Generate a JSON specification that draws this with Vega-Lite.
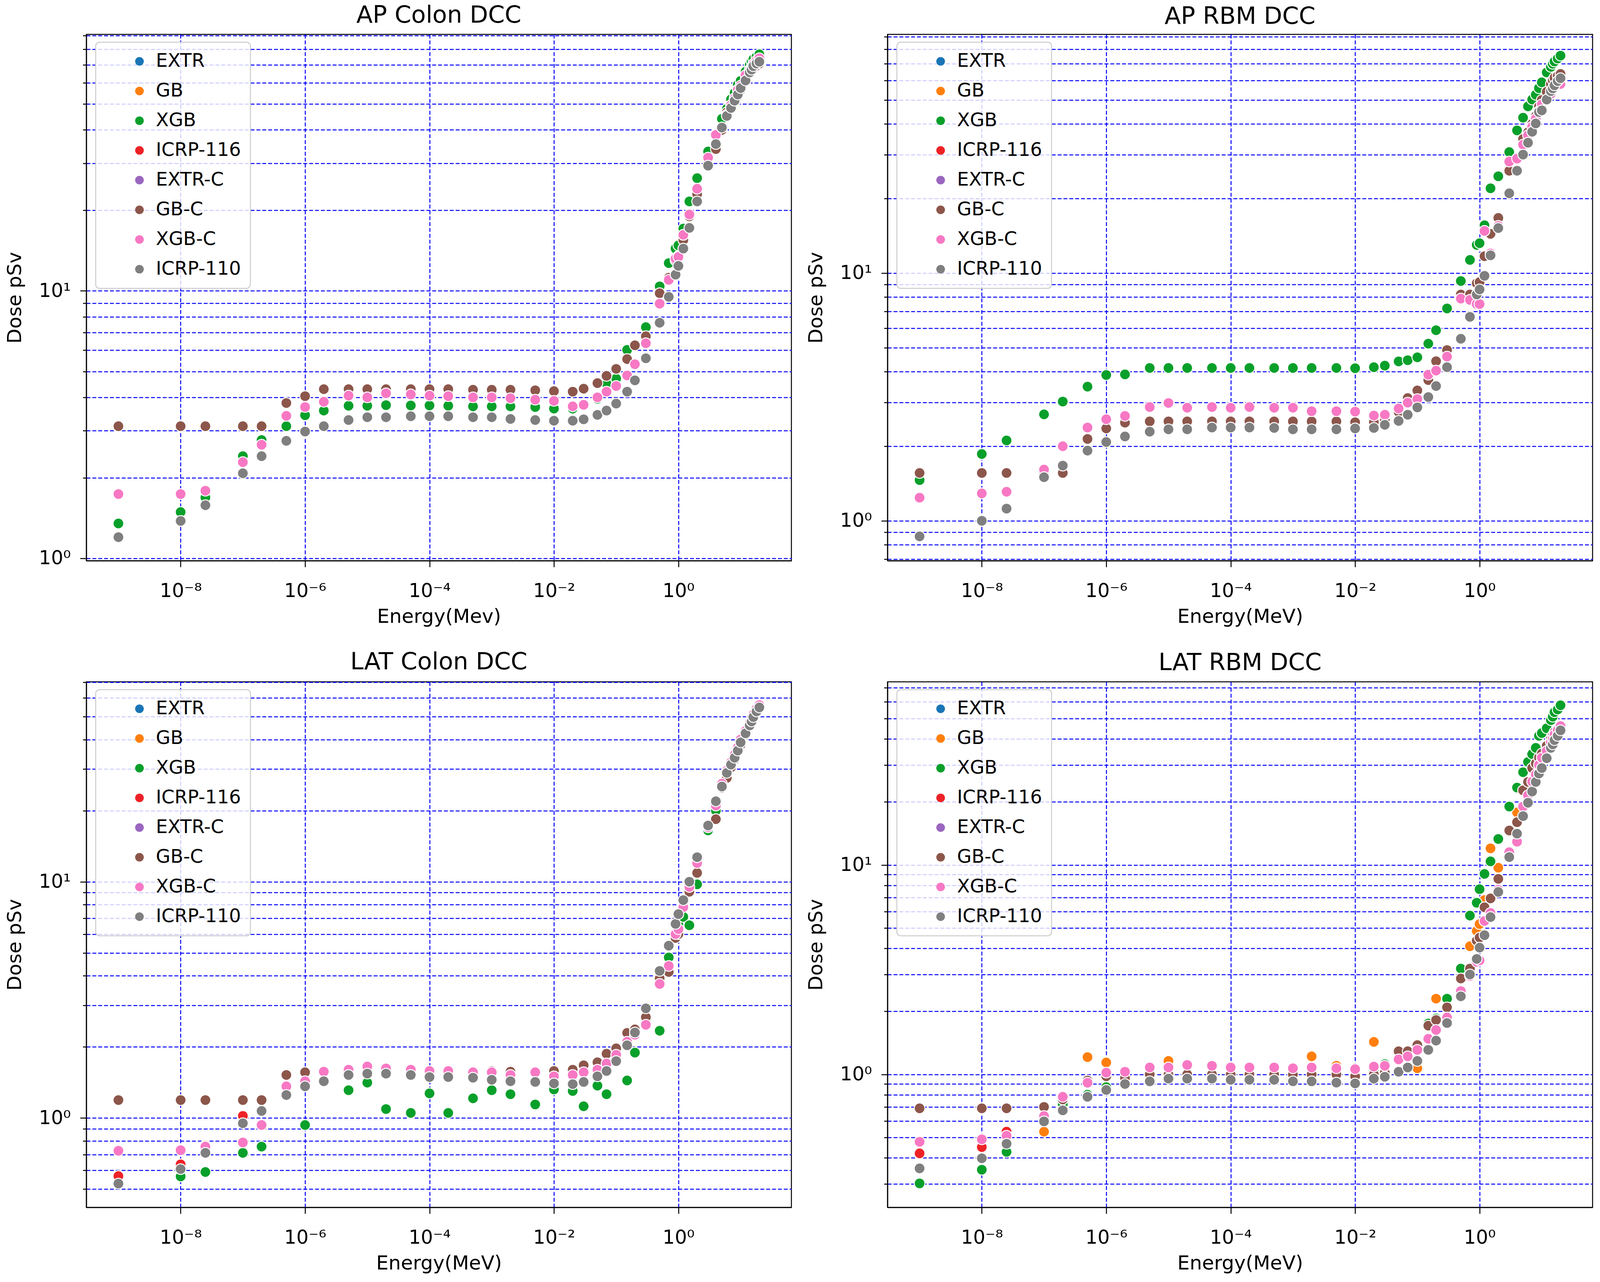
{
  "$schema": "https://vega.github.io/schema/vega-lite/v6.json",
  "padding": {"left": 11, "top": 8, "right": 5, "bottom": 2},
  "background": "white",
  "datasets": {
    "zorder": [
      {"Model": "EXTR", "z": 0}, {"Model": "GB", "z": 1}, {"Model": "XGB", "z": 2}, {"Model": "ICRP-116", "z": 3},
      {"Model": "EXTR-C", "z": 4}, {"Model": "GB-C", "z": 5}, {"Model": "XGB-C", "z": 6}, {"Model": "ICRP-110", "z": 7}
    ],
    "apc": [
      {"E":1e-9,"XGB":1.35,"GB-C":3.12,"XGB-C":1.74,"ICRP-110":1.2},
      {"E":1e-8,"XGB":1.49,"GB-C":3.12,"XGB-C":1.74,"ICRP-110":1.38},
      {"E":2.5e-8,"XGB":1.69,"GB-C":3.12,"XGB-C":1.79,"ICRP-110":1.58},
      {"E":1e-7,"XGB":2.41,"GB-C":3.12,"XGB-C":2.29,"ICRP-110":2.08},
      {"E":2e-7,"XGB":2.77,"GB-C":3.12,"XGB-C":2.66,"ICRP-110":2.41},
      {"E":5e-7,"XGB":3.12,"GB-C":3.81,"XGB-C":3.41,"ICRP-110":2.75},
      {"E":1e-6,"XGB":3.43,"GB-C":4.04,"XGB-C":3.68,"ICRP-110":2.98},
      {"E":2e-6,"XGB":3.57,"GB-C":4.29,"XGB-C":3.85,"ICRP-110":3.12},
      {"E":5e-6,"XGB":3.72,"GB-C":4.29,"XGB-C":4.06,"ICRP-110":3.29},
      {"E":1e-5,"XGB":3.72,"GB-C":4.29,"XGB-C":4.0,"ICRP-110":3.37},
      {"E":2e-5,"XGB":3.74,"GB-C":4.29,"XGB-C":4.14,"ICRP-110":3.37},
      {"E":5e-5,"XGB":3.73,"GB-C":4.29,"XGB-C":4.1,"ICRP-110":3.4},
      {"E":1e-4,"XGB":3.73,"GB-C":4.29,"XGB-C":4.06,"ICRP-110":3.4},
      {"E":2e-4,"XGB":3.72,"GB-C":4.29,"XGB-C":4.04,"ICRP-110":3.4},
      {"E":5e-4,"XGB":3.7,"GB-C":4.27,"XGB-C":4.0,"ICRP-110":3.37},
      {"E":1e-3,"XGB":3.7,"GB-C":4.27,"XGB-C":4.0,"ICRP-110":3.37},
      {"E":2e-3,"XGB":3.7,"GB-C":4.27,"XGB-C":3.97,"ICRP-110":3.32},
      {"E":5e-3,"XGB":3.68,"GB-C":4.25,"XGB-C":3.92,"ICRP-110":3.29},
      {"E":1e-2,"XGB":3.63,"GB-C":4.22,"XGB-C":3.88,"ICRP-110":3.27},
      {"E":2e-2,"XGB":3.63,"GB-C":4.2,"XGB-C":3.7,"ICRP-110":3.27},
      {"E":3e-2,"XGB":3.75,"GB-C":4.31,"XGB-C":3.75,"ICRP-110":3.31},
      {"E":5e-2,"XGB":3.95,"GB-C":4.52,"XGB-C":4.0,"ICRP-110":3.44},
      {"E":7e-2,"XGB":4.5,"GB-C":4.81,"XGB-C":4.2,"ICRP-110":3.57},
      {"E":0.1,"XGB":4.7,"GB-C":5.11,"XGB-C":4.41,"ICRP-110":3.79},
      {"E":0.15,"XGB":6.02,"GB-C":5.56,"XGB-C":4.83,"ICRP-110":4.2},
      {"E":0.2,"XGB":6.3,"GB-C":6.26,"XGB-C":5.32,"ICRP-110":4.63},
      {"E":0.3,"XGB":7.32,"GB-C":6.77,"XGB-C":6.37,"ICRP-110":5.6},
      {"E":0.5,"XGB":10.4,"GB-C":9.8,"XGB-C":8.96,"ICRP-110":7.6},
      {"E":0.7,"XGB":12.7,"GB-C":11.2,"XGB-C":11.0,"ICRP-110":9.5},
      {"E":0.9,"XGB":14.4,"GB-C":13.0,"XGB-C":13.2,"ICRP-110":11.5},
      {"E":1,"XGB":14.8,"GB-C":13.5,"XGB-C":13.4,"ICRP-110":12.4},
      {"E":1.2,"XGB":17.1,"GB-C":15.5,"XGB-C":16.2,"ICRP-110":14.4},
      {"E":1.5,"XGB":21.6,"GB-C":19.0,"XGB-C":19.3,"ICRP-110":17.2},
      {"E":2,"XGB":26.4,"GB-C":23.0,"XGB-C":24.1,"ICRP-110":21.6},
      {"E":3,"XGB":33.2,"GB-C":31.0,"XGB-C":31.5,"ICRP-110":29.4},
      {"E":4,"XGB":38.5,"GB-C":33.9,"XGB-C":38.3,"ICRP-110":35.4},
      {"E":5,"XGB":44.0,"GB-C":40.0,"XGB-C":40.8,"ICRP-110":40.8},
      {"E":6,"XGB":47.9,"GB-C":46.5,"XGB-C":45.5,"ICRP-110":45.1},
      {"E":7,"XGB":52.0,"GB-C":48.0,"XGB-C":49.5,"ICRP-110":48.3},
      {"E":8,"XGB":55.0,"GB-C":51.0,"XGB-C":52.5,"ICRP-110":51.4},
      {"E":9,"XGB":59.0,"GB-C":53.5,"XGB-C":56.5,"ICRP-110":54.2},
      {"E":10,"XGB":61.0,"GB-C":56.5,"XGB-C":58.5,"ICRP-110":57.3},
      {"E":12,"XGB":66.0,"GB-C":61.0,"XGB-C":64.0,"ICRP-110":61.2},
      {"E":14,"XGB":70.0,"GB-C":65.0,"XGB-C":67.0,"ICRP-110":65.6},
      {"E":15,"XGB":72.0,"GB-C":66.5,"XGB-C":68.5,"ICRP-110":67.2},
      {"E":16,"XGB":73.5,"GB-C":68.0,"XGB-C":70.5,"ICRP-110":69.2},
      {"E":18,"XGB":75.0,"GB-C":69.5,"XGB-C":72.5,"ICRP-110":70.8},
      {"E":20,"XGB":76.7,"GB-C":70.8,"XGB-C":74.1,"ICRP-110":71.9}
    ],
    "apr": [
      {"E":1e-9,"XGB":1.46,"GB-C":1.56,"XGB-C":1.24,"ICRP-110":0.865},
      {"E":1e-8,"XGB":1.86,"GB-C":1.56,"XGB-C":1.29,"ICRP-110":1.0},
      {"E":2.5e-8,"XGB":2.11,"GB-C":1.56,"XGB-C":1.31,"ICRP-110":1.12},
      {"E":1e-7,"XGB":2.69,"GB-C":1.55,"XGB-C":1.61,"ICRP-110":1.5},
      {"E":2e-7,"XGB":3.03,"GB-C":1.56,"XGB-C":2.0,"ICRP-110":1.67},
      {"E":5e-7,"XGB":3.48,"GB-C":2.14,"XGB-C":2.38,"ICRP-110":1.92},
      {"E":1e-6,"XGB":3.88,"GB-C":2.36,"XGB-C":2.57,"ICRP-110":2.08},
      {"E":2e-6,"XGB":3.9,"GB-C":2.49,"XGB-C":2.65,"ICRP-110":2.19},
      {"E":5e-6,"XGB":4.14,"GB-C":2.52,"XGB-C":2.88,"ICRP-110":2.29},
      {"E":1e-5,"XGB":4.14,"GB-C":2.52,"XGB-C":2.99,"ICRP-110":2.34},
      {"E":2e-5,"XGB":4.14,"GB-C":2.52,"XGB-C":2.86,"ICRP-110":2.34},
      {"E":5e-5,"XGB":4.14,"GB-C":2.52,"XGB-C":2.88,"ICRP-110":2.38},
      {"E":1e-4,"XGB":4.14,"GB-C":2.52,"XGB-C":2.86,"ICRP-110":2.38},
      {"E":2e-4,"XGB":4.14,"GB-C":2.52,"XGB-C":2.88,"ICRP-110":2.38},
      {"E":5e-4,"XGB":4.14,"GB-C":2.52,"XGB-C":2.86,"ICRP-110":2.37},
      {"E":1e-3,"XGB":4.14,"GB-C":2.52,"XGB-C":2.86,"ICRP-110":2.34},
      {"E":2e-3,"XGB":4.14,"GB-C":2.52,"XGB-C":2.77,"ICRP-110":2.34},
      {"E":5e-3,"XGB":4.14,"GB-C":2.52,"XGB-C":2.77,"ICRP-110":2.34},
      {"E":1e-2,"XGB":4.13,"GB-C":2.5,"XGB-C":2.76,"ICRP-110":2.36},
      {"E":2e-2,"XGB":4.17,"GB-C":2.5,"XGB-C":2.66,"ICRP-110":2.37},
      {"E":3e-2,"XGB":4.23,"GB-C":2.55,"XGB-C":2.68,"ICRP-110":2.44},
      {"E":5e-2,"XGB":4.4,"GB-C":2.75,"XGB-C":2.84,"ICRP-110":2.53},
      {"E":7e-2,"XGB":4.45,"GB-C":3.13,"XGB-C":3.0,"ICRP-110":2.68},
      {"E":0.1,"XGB":4.57,"GB-C":3.36,"XGB-C":3.1,"ICRP-110":2.87},
      {"E":0.15,"XGB":5.19,"GB-C":3.7,"XGB-C":3.89,"ICRP-110":3.16},
      {"E":0.2,"XGB":5.88,"GB-C":4.41,"XGB-C":4.04,"ICRP-110":3.5},
      {"E":0.3,"XGB":7.2,"GB-C":4.89,"XGB-C":4.6,"ICRP-110":4.17},
      {"E":0.5,"XGB":9.29,"GB-C":8.2,"XGB-C":7.89,"ICRP-110":5.43},
      {"E":0.7,"XGB":11.3,"GB-C":8.2,"XGB-C":7.8,"ICRP-110":6.66},
      {"E":0.9,"XGB":13.0,"GB-C":9.1,"XGB-C":7.5,"ICRP-110":8.2},
      {"E":1,"XGB":13.2,"GB-C":9.2,"XGB-C":7.5,"ICRP-110":8.59},
      {"E":1.2,"XGB":15.6,"GB-C":11.7,"XGB-C":14.8,"ICRP-110":9.75},
      {"E":1.5,"XGB":22.0,"GB-C":14.4,"XGB-C":12.0,"ICRP-110":11.8},
      {"E":2,"XGB":24.6,"GB-C":16.7,"XGB-C":15.5,"ICRP-110":15.2},
      {"E":3,"XGB":30.8,"GB-C":25.9,"XGB-C":28.2,"ICRP-110":21.0},
      {"E":4,"XGB":37.7,"GB-C":29.0,"XGB-C":29.0,"ICRP-110":25.9},
      {"E":5,"XGB":42.4,"GB-C":34.8,"XGB-C":33.0,"ICRP-110":30.1},
      {"E":6,"XGB":47.1,"GB-C":37.0,"XGB-C":36.0,"ICRP-110":33.6},
      {"E":7,"XGB":50.2,"GB-C":40.0,"XGB-C":39.0,"ICRP-110":37.2},
      {"E":8,"XGB":52.5,"GB-C":43.0,"XGB-C":42.0,"ICRP-110":40.2},
      {"E":9,"XGB":55.8,"GB-C":47.0,"XGB-C":45.0,"ICRP-110":44.7},
      {"E":10,"XGB":58.9,"GB-C":50.0,"XGB-C":48.0,"ICRP-110":45.4},
      {"E":12,"XGB":64.6,"GB-C":54.0,"XGB-C":50.0,"ICRP-110":50.2},
      {"E":14,"XGB":68.0,"GB-C":58.0,"XGB-C":53.0,"ICRP-110":54.3},
      {"E":15,"XGB":70.0,"GB-C":60.0,"XGB-C":55.0,"ICRP-110":55.7},
      {"E":16,"XGB":71.5,"GB-C":61.5,"XGB-C":56.5,"ICRP-110":57.3},
      {"E":18,"XGB":73.5,"GB-C":62.5,"XGB-C":57.5,"ICRP-110":59.6},
      {"E":20,"XGB":75.5,"GB-C":63.7,"XGB-C":58.0,"ICRP-110":61.2}
    ],
    "latc": [
      {"E":1e-9,"XGB":0.53,"ICRP-116":0.567,"GB-C":1.19,"XGB-C":0.726,"ICRP-110":0.527},
      {"E":1e-8,"XGB":0.565,"ICRP-116":0.636,"GB-C":1.19,"XGB-C":0.73,"ICRP-110":0.607},
      {"E":2.5e-8,"XGB":0.59,"GB":0.765,"GB-C":1.19,"XGB-C":0.756,"ICRP-110":0.711},
      {"E":1e-7,"XGB":0.711,"ICRP-116":1.02,"GB-C":1.19,"XGB-C":0.787,"ICRP-110":0.949},
      {"E":2e-7,"XGB":0.756,"GB-C":1.19,"XGB-C":0.933,"ICRP-110":1.07},
      {"E":5e-7,"XGB":1.25,"GB-C":1.52,"XGB-C":1.36,"ICRP-110":1.25},
      {"E":1e-6,"XGB":0.933,"GB-C":1.56,"XGB-C":1.43,"ICRP-110":1.36},
      {"E":2e-6,"XGB":1.43,"GB-C":1.57,"XGB-C":1.57,"ICRP-110":1.43},
      {"E":5e-6,"XGB":1.31,"GB-C":1.58,"XGB-C":1.6,"ICRP-110":1.52},
      {"E":1e-5,"XGB":1.41,"GB-C":1.63,"XGB-C":1.65,"ICRP-110":1.54},
      {"E":2e-5,"XGB":1.09,"GB-C":1.6,"XGB-C":1.62,"ICRP-110":1.54},
      {"E":5e-5,"XGB":1.05,"GB-C":1.58,"XGB-C":1.6,"ICRP-110":1.52},
      {"E":1e-4,"XGB":1.27,"GB-C":1.56,"XGB-C":1.58,"ICRP-110":1.49},
      {"E":2e-4,"XGB":1.05,"GB-C":1.56,"XGB-C":1.58,"ICRP-110":1.49},
      {"E":5e-4,"XGB":1.21,"GB-C":1.56,"XGB-C":1.56,"ICRP-110":1.48},
      {"E":1e-3,"XGB":1.31,"GB-C":1.58,"XGB-C":1.56,"ICRP-110":1.45},
      {"E":2e-3,"XGB":1.26,"GB-C":1.57,"XGB-C":1.52,"ICRP-110":1.43},
      {"E":5e-3,"XGB":1.14,"GB-C":1.57,"XGB-C":1.56,"ICRP-110":1.42},
      {"E":1e-2,"XGB":1.32,"GB-C":1.58,"XGB-C":1.5,"ICRP-110":1.4},
      {"E":2e-2,"XGB":1.3,"GB-C":1.6,"XGB-C":1.52,"ICRP-110":1.39},
      {"E":3e-2,"XGB":1.12,"GB-C":1.67,"XGB-C":1.56,"ICRP-110":1.42},
      {"E":5e-2,"XGB":1.37,"GB-C":1.72,"XGB-C":1.6,"ICRP-110":1.5},
      {"E":7e-2,"XGB":1.26,"GB-C":1.87,"XGB-C":1.7,"ICRP-110":1.58},
      {"E":0.1,"XGB":1.8,"GB-C":1.97,"XGB-C":1.85,"ICRP-110":1.74},
      {"E":0.15,"XGB":1.44,"GB-C":2.29,"XGB-C":2.1,"ICRP-110":2.03},
      {"E":0.2,"XGB":1.89,"GB-C":2.37,"XGB-C":2.25,"ICRP-110":2.3},
      {"E":0.3,"XGB":2.6,"GB-C":2.67,"XGB-C":2.48,"ICRP-110":2.91},
      {"E":0.5,"XGB":2.34,"GB-C":3.9,"XGB-C":3.69,"ICRP-110":4.19},
      {"E":0.7,"XGB":4.78,"GB-C":4.15,"XGB-C":4.4,"ICRP-110":5.36},
      {"E":0.9,"XGB":5.9,"GB-C":5.78,"XGB-C":6.0,"ICRP-110":6.63},
      {"E":1,"XGB":6.6,"GB-C":6.0,"XGB-C":6.3,"ICRP-110":7.29},
      {"E":1.2,"XGB":7.1,"GB-C":8.0,"XGB-C":7.8,"ICRP-110":8.36},
      {"E":1.5,"XGB":6.54,"GB-C":9.07,"XGB-C":9.5,"ICRP-110":10.0},
      {"E":2,"XGB":9.75,"GB-C":10.9,"XGB-C":12.0,"ICRP-110":12.7},
      {"E":3,"XGB":16.5,"GB-C":17.0,"XGB-C":17.0,"ICRP-110":17.3},
      {"E":4,"XGB":20.0,"GB-C":18.4,"XGB-C":21.0,"ICRP-110":21.9},
      {"E":5,"XGB":25.0,"GB-C":25.0,"XGB-C":26.0,"ICRP-110":25.3},
      {"E":6,"XGB":28.0,"GB-C":27.5,"XGB-C":29.5,"ICRP-110":28.9},
      {"E":7,"XGB":31.0,"GB-C":30.5,"XGB-C":32.0,"ICRP-110":31.3},
      {"E":8,"XGB":34.0,"GB-C":33.0,"XGB-C":34.5,"ICRP-110":33.5},
      {"E":9,"XGB":37.0,"GB-C":35.5,"XGB-C":37.0,"ICRP-110":35.9},
      {"E":10,"XGB":39.0,"GB-C":38.0,"XGB-C":40.0,"ICRP-110":38.9},
      {"E":12,"XGB":42.5,"GB-C":42.0,"XGB-C":43.5,"ICRP-110":42.5},
      {"E":14,"XGB":46.0,"GB-C":45.5,"XGB-C":47.0,"ICRP-110":45.9},
      {"E":15,"XGB":47.5,"GB-C":47.0,"XGB-C":49.0,"ICRP-110":47.7},
      {"E":16,"XGB":49.5,"GB-C":49.0,"XGB-C":51.0,"ICRP-110":49.8},
      {"E":18,"XGB":52.0,"GB-C":52.0,"XGB-C":54.0,"ICRP-110":52.6},
      {"E":20,"XGB":54.0,"GB-C":54.0,"XGB-C":56.0,"ICRP-110":54.7}
    ],
    "latr": [
      {"E":1e-9,"XGB":0.302,"ICRP-116":0.42,"GB-C":0.689,"XGB-C":0.477,"ICRP-110":0.356},
      {"E":1e-8,"XGB":0.351,"ICRP-116":0.45,"GB-C":0.689,"XGB-C":0.49,"ICRP-110":0.398},
      {"E":2.5e-8,"XGB":0.427,"ICRP-116":0.533,"GB-C":0.689,"XGB-C":0.51,"ICRP-110":0.467},
      {"E":1e-7,"XGB":0.6,"GB":0.533,"GB-C":0.7,"XGB-C":0.633,"ICRP-110":0.597},
      {"E":2e-7,"XGB":0.72,"GB-C":0.76,"XGB-C":0.782,"ICRP-110":0.674},
      {"E":5e-7,"XGB":0.8,"GB":1.21,"GB-C":0.935,"XGB-C":0.913,"ICRP-110":0.782},
      {"E":1e-6,"XGB":0.87,"GB":1.14,"GB-C":0.98,"XGB-C":1.02,"ICRP-110":0.843},
      {"E":2e-6,"XGB":0.92,"GB-C":0.96,"XGB-C":1.03,"ICRP-110":0.9},
      {"E":5e-6,"XGB":0.97,"GB-C":1.0,"XGB-C":1.08,"ICRP-110":0.927},
      {"E":1e-5,"XGB":1.0,"GB":1.16,"GB-C":1.0,"XGB-C":1.08,"ICRP-110":0.955},
      {"E":2e-5,"XGB":1.0,"GB":1.1,"GB-C":1.0,"XGB-C":1.11,"ICRP-110":0.955},
      {"E":5e-5,"XGB":1.0,"GB-C":1.0,"XGB-C":1.1,"ICRP-110":0.955},
      {"E":1e-4,"XGB":1.0,"GB-C":1.0,"XGB-C":1.08,"ICRP-110":0.943},
      {"E":2e-4,"XGB":1.0,"GB-C":1.0,"XGB-C":1.08,"ICRP-110":0.943},
      {"E":5e-4,"XGB":1.0,"GB-C":1.0,"XGB-C":1.08,"ICRP-110":0.943},
      {"E":1e-3,"XGB":1.02,"GB-C":1.0,"XGB-C":1.07,"ICRP-110":0.927},
      {"E":2e-3,"XGB":1.0,"GB":1.22,"GB-C":1.0,"XGB-C":1.08,"ICRP-110":0.927},
      {"E":5e-3,"XGB":1.0,"GB":1.1,"GB-C":1.0,"XGB-C":1.07,"ICRP-110":0.914},
      {"E":1e-2,"XGB":1.05,"GB":1.05,"GB-C":0.98,"XGB-C":1.06,"ICRP-110":0.906},
      {"E":2e-2,"XGB":1.05,"GB":1.43,"GB-C":1.0,"XGB-C":1.09,"ICRP-110":0.955},
      {"E":3e-2,"XGB":1.12,"GB-C":1.02,"XGB-C":1.1,"ICRP-110":0.975},
      {"E":5e-2,"XGB":1.2,"GB":1.29,"GB-C":1.29,"XGB-C":1.18,"ICRP-110":1.03},
      {"E":7e-2,"XGB":1.25,"GB":1.08,"GB-C":1.29,"XGB-C":1.22,"ICRP-110":1.08},
      {"E":0.1,"XGB":1.35,"GB":1.07,"GB-C":1.38,"XGB-C":1.31,"ICRP-110":1.16},
      {"E":0.15,"XGB":1.75,"GB-C":1.71,"XGB-C":1.48,"ICRP-110":1.31},
      {"E":0.2,"XGB":1.85,"GB":2.3,"GB-C":1.82,"XGB-C":1.63,"ICRP-110":1.45},
      {"E":0.3,"XGB":2.3,"GB-C":2.09,"XGB-C":1.87,"ICRP-110":1.76},
      {"E":0.5,"XGB":3.2,"GB-C":2.87,"XGB-C":2.5,"ICRP-110":2.36},
      {"E":0.7,"XGB":5.73,"GB":4.09,"GB-C":3.2,"XGB-C":2.95,"ICRP-110":3.0},
      {"E":0.9,"XGB":6.6,"GB":4.84,"GB-C":4.35,"XGB-C":3.45,"ICRP-110":3.56},
      {"E":1,"XGB":7.66,"GB":5.22,"GB-C":4.5,"XGB-C":3.5,"ICRP-110":4.03},
      {"E":1.2,"XGB":9.06,"GB":6.8,"GB-C":6.28,"XGB-C":5.4,"ICRP-110":4.62},
      {"E":1.5,"XGB":10.4,"GB":12.0,"GB-C":6.92,"XGB-C":5.9,"ICRP-110":5.64},
      {"E":2,"XGB":13.3,"GB":9.7,"GB-C":8.58,"XGB-C":7.6,"ICRP-110":7.43},
      {"E":3,"XGB":19.0,"GB-C":14.6,"XGB-C":11.5,"ICRP-110":10.9},
      {"E":4,"XGB":23.4,"GB":17.8,"GB-C":16.0,"XGB-C":12.9,"ICRP-110":14.1},
      {"E":5,"XGB":27.7,"GB-C":22.7,"XGB-C":19.0,"ICRP-110":17.1},
      {"E":6,"XGB":31.0,"GB-C":24.9,"XGB-C":21.5,"ICRP-110":19.8},
      {"E":7,"XGB":33.8,"GB-C":29.0,"XGB-C":25.0,"ICRP-110":22.4},
      {"E":8,"XGB":36.2,"GB-C":30.5,"XGB-C":27.0,"ICRP-110":24.9},
      {"E":9,"XGB":41.3,"GB-C":32.5,"XGB-C":30.0,"ICRP-110":27.3},
      {"E":10,"XGB":42.6,"GB-C":34.0,"XGB-C":32.5,"ICRP-110":29.0},
      {"E":12,"XGB":44.9,"GB-C":37.0,"XGB-C":35.0,"ICRP-110":32.3},
      {"E":14,"XGB":49.1,"GB-C":40.0,"XGB-C":38.5,"ICRP-110":36.2},
      {"E":15,"XGB":51.0,"GB-C":41.5,"XGB-C":40.0,"ICRP-110":37.6},
      {"E":16,"XGB":53.6,"GB-C":43.0,"XGB-C":42.0,"ICRP-110":39.4},
      {"E":18,"XGB":55.2,"GB-C":44.5,"XGB-C":44.0,"ICRP-110":41.3},
      {"E":20,"XGB":57.8,"GB-C":46.0,"XGB-C":46.0,"ICRP-110":43.9}
    ]
  },
  "columns": 2,
  "spacing": {"row": 57, "column": 34},
  "resolve": {"scale": {"color": "independent"}, "legend": {"color": "independent"}},
  "concat": [
    {
      "title": "AP Colon DCC",
      "width": 1805,
      "height": 1347,
      "data": {"name": "apc"},
      "transform": [
        {"fold": ["EXTR", "GB", "XGB", "ICRP-116", "EXTR-C", "GB-C", "XGB-C", "ICRP-110"], "as": ["Model", "Dose"]},
        {"filter": "isValid(datum.Dose)"},
        {"lookup": "Model", "from": {"data": {"name": "zorder"}, "key": "Model", "fields": ["z"]}}
      ],
      "mark": {"type": "circle", "size": 750, "opacity": 1, "stroke": "white", "strokeWidth": 2.5},
      "encoding": {
        "x": {
          "field": "E", "type": "quantitative",
          "scale": {"type": "log", "domain": [3.05e-10, 65.5], "nice": false},
          "axis": {"title": "Energy(Mev)", "values": [1e-8, 1e-6, 1e-4, 1e-2, 1],
            "labelExpr": "datum.value < 1e-7 ? '10⁻⁸' : datum.value < 1e-5 ? '10⁻⁶' : datum.value < 1e-3 ? '10⁻⁴' : datum.value < 0.1 ? '10⁻²' : '10⁰'"}
        },
        "y": {
          "field": "Dose", "type": "quantitative",
          "scale": {"type": "log", "domain": [0.98, 91], "nice": false},
          "axis": {"title": "Dose pSv", "values": [1, 2, 3, 4, 5, 6, 7, 8, 9, 10, 20, 30, 40, 50, 60, 70, 80, 90],
            "labelExpr": "datum.value == 1 ? '10⁰' : datum.value == 10 ? '10¹' : ''",
            "tickSize": {"condition": {"test": "datum.value == 1 || datum.value == 10", "value": 16}, "value": 9}}
        },
        "color": {
          "field": "Model", "type": "nominal",
          "scale": {"domain": ["EXTR", "GB", "XGB", "ICRP-116", "EXTR-C", "GB-C", "XGB-C", "ICRP-110"],
            "range": ["#1a75b5", "#ff7f0e", "#08a02a", "#ee2226", "#9a66c0", "#8c564b", "#f878c4", "#7f7f7f"]},
          "legend": {"title": null, "orient": "none", "legendX": 24, "legendY": 20}
        },
        "order": {"field": "z", "type": "quantitative"}
      }
    },
    {
      "title": "AP RBM DCC",
      "width": 1805,
      "height": 1347,
      "data": {"name": "apr"},
      "transform": [
        {"fold": ["EXTR", "GB", "XGB", "ICRP-116", "EXTR-C", "GB-C", "XGB-C", "ICRP-110"], "as": ["Model", "Dose"]},
        {"filter": "isValid(datum.Dose)"},
        {"lookup": "Model", "from": {"data": {"name": "zorder"}, "key": "Model", "fields": ["z"]}}
      ],
      "mark": {"type": "circle", "size": 750, "opacity": 1, "stroke": "white", "strokeWidth": 2.5},
      "encoding": {
        "x": {
          "field": "E", "type": "quantitative",
          "scale": {"type": "log", "domain": [3.05e-10, 65.5], "nice": false},
          "axis": {"title": "Energy(MeV)", "values": [1e-8, 1e-6, 1e-4, 1e-2, 1],
            "labelExpr": "datum.value < 1e-7 ? '10⁻⁸' : datum.value < 1e-5 ? '10⁻⁶' : datum.value < 1e-3 ? '10⁻⁴' : datum.value < 0.1 ? '10⁻²' : '10⁰'"}
        },
        "y": {
          "field": "Dose", "type": "quantitative",
          "scale": {"type": "log", "domain": [0.69, 92], "nice": false},
          "axis": {"title": "Dose pSv", "values": [0.7, 0.8, 0.9, 1, 2, 3, 4, 5, 6, 7, 8, 9, 10, 20, 30, 40, 50, 60, 70, 80, 90],
            "labelExpr": "datum.value == 1 ? '10⁰' : datum.value == 10 ? '10¹' : ''",
            "tickSize": {"condition": {"test": "datum.value == 1 || datum.value == 10", "value": 16}, "value": 9}}
        },
        "color": {
          "field": "Model", "type": "nominal",
          "scale": {"domain": ["EXTR", "GB", "XGB", "ICRP-116", "EXTR-C", "GB-C", "XGB-C", "ICRP-110"],
            "range": ["#1a75b5", "#ff7f0e", "#08a02a", "#ee2226", "#9a66c0", "#8c564b", "#f878c4", "#7f7f7f"]},
          "legend": {"title": null, "orient": "none", "legendX": 24, "legendY": 20}
        },
        "order": {"field": "z", "type": "quantitative"}
      }
    },
    {
      "title": "LAT Colon DCC",
      "width": 1805,
      "height": 1345,
      "data": {"name": "latc"},
      "transform": [
        {"fold": ["EXTR", "GB", "XGB", "ICRP-116", "EXTR-C", "GB-C", "XGB-C", "ICRP-110"], "as": ["Model", "Dose"]},
        {"filter": "isValid(datum.Dose)"},
        {"lookup": "Model", "from": {"data": {"name": "zorder"}, "key": "Model", "fields": ["z"]}}
      ],
      "mark": {"type": "circle", "size": 750, "opacity": 1, "stroke": "white", "strokeWidth": 2.5},
      "encoding": {
        "x": {
          "field": "E", "type": "quantitative",
          "scale": {"type": "log", "domain": [3.05e-10, 65.5], "nice": false},
          "axis": {"title": "Energy(MeV)", "values": [1e-8, 1e-6, 1e-4, 1e-2, 1],
            "labelExpr": "datum.value < 1e-7 ? '10⁻⁸' : datum.value < 1e-5 ? '10⁻⁶' : datum.value < 1e-3 ? '10⁻⁴' : datum.value < 0.1 ? '10⁻²' : '10⁰'"}
        },
        "y": {
          "field": "Dose", "type": "quantitative",
          "scale": {"type": "log", "domain": [0.418, 70.2], "nice": false},
          "axis": {"title": "Dose pSv", "values": [0.5, 0.6, 0.7, 0.8, 0.9, 1, 2, 3, 4, 5, 6, 7, 8, 9, 10, 20, 30, 40, 50, 60, 70],
            "labelExpr": "datum.value == 1 ? '10⁰' : datum.value == 10 ? '10¹' : ''",
            "tickSize": {"condition": {"test": "datum.value == 1 || datum.value == 10", "value": 16}, "value": 9}}
        },
        "color": {
          "field": "Model", "type": "nominal",
          "scale": {"domain": ["EXTR", "GB", "XGB", "ICRP-116", "EXTR-C", "GB-C", "XGB-C", "ICRP-110"],
            "range": ["#1a75b5", "#ff7f0e", "#08a02a", "#ee2226", "#9a66c0", "#8c564b", "#f878c4", "#7f7f7f"]},
          "legend": {"title": null, "orient": "none", "legendX": 24, "legendY": 20}
        },
        "order": {"field": "z", "type": "quantitative"}
      }
    },
    {
      "title": {"text": "LAT RBM DCC", "dy": -12},
      "width": 1805,
      "height": 1345,
      "data": {"name": "latr"},
      "transform": [
        {"fold": ["EXTR", "GB", "XGB", "ICRP-116", "EXTR-C", "GB-C", "XGB-C", "ICRP-110"], "as": ["Model", "Dose"]},
        {"filter": "isValid(datum.Dose)"},
        {"lookup": "Model", "from": {"data": {"name": "zorder"}, "key": "Model", "fields": ["z"]}}
      ],
      "mark": {"type": "circle", "size": 750, "opacity": 1, "stroke": "white", "strokeWidth": 2.5},
      "encoding": {
        "x": {
          "field": "E", "type": "quantitative",
          "scale": {"type": "log", "domain": [3.05e-10, 65.5], "nice": false},
          "axis": {"title": "Energy(MeV)", "values": [1e-8, 1e-6, 1e-4, 1e-2, 1],
            "labelExpr": "datum.value < 1e-7 ? '10⁻⁸' : datum.value < 1e-5 ? '10⁻⁶' : datum.value < 1e-3 ? '10⁻⁴' : datum.value < 0.1 ? '10⁻²' : '10⁰'"}
        },
        "y": {
          "field": "Dose", "type": "quantitative",
          "scale": {"type": "log", "domain": [0.232, 74.8], "nice": false},
          "axis": {"title": "Dose pSv", "values": [0.3, 0.4, 0.5, 0.6, 0.7, 0.8, 0.9, 1, 2, 3, 4, 5, 6, 7, 8, 9, 10, 20, 30, 40, 50, 60, 70],
            "labelExpr": "datum.value == 1 ? '10⁰' : datum.value == 10 ? '10¹' : ''",
            "tickSize": {"condition": {"test": "datum.value == 1 || datum.value == 10", "value": 16}, "value": 9}}
        },
        "color": {
          "field": "Model", "type": "nominal",
          "scale": {"domain": ["EXTR", "GB", "XGB", "ICRP-116", "EXTR-C", "GB-C", "XGB-C", "ICRP-110"],
            "range": ["#1a75b5", "#ff7f0e", "#08a02a", "#ee2226", "#9a66c0", "#8c564b", "#f878c4", "#7f7f7f"]},
          "legend": {"title": null, "orient": "none", "legendX": 24, "legendY": 20}
        },
        "order": {"field": "z", "type": "quantitative"}
      }
    }
  ],
  "config": {
    "font": "DejaVu Sans",
    "view": {"stroke": "black", "strokeWidth": 2.5},
    "title": {"fontSize": 61, "fontWeight": "normal", "color": "black", "anchor": "middle", "frame": "group", "offset": -4},
    "axis": {
      "labelFontSize": 49, "titleFontSize": 50, "titleFontWeight": "normal",
      "labelColor": "black", "titleColor": "black",
      "tickColor": "black", "tickWidth": 2.5, "tickSize": 16,
      "domainColor": "black", "domainWidth": 2.5,
      "grid": true, "gridColor": "#0000ff", "gridDash": [10, 5], "gridWidth": 2.5, "gridOpacity": 1,
      "labelOverlap": false, "labelFlush": false, "zindex": 1
    },
    "axisX": {"labelPadding": 37, "titlePadding": 16},
    "axisY": {"labelPadding": 24, "titlePadding": 36},
    "legend": {
      "padding": 24,
      "symbolType": "circle", "symbolSize": 490, "symbolStrokeWidth": 0, "symbolOffset": 64,
      "labelFontSize": 48, "labelColor": "black", "labelOffset": 18, "labelLimit": 400,
      "rowPadding": 26, "clipHeight": 50,
      "fillColor": "rgba(255,255,255,0.8)", "strokeColor": "#cccccc", "strokeWidth": 2.5, "cornerRadius": 10,
      "zindex": 2
    }
  }
}
